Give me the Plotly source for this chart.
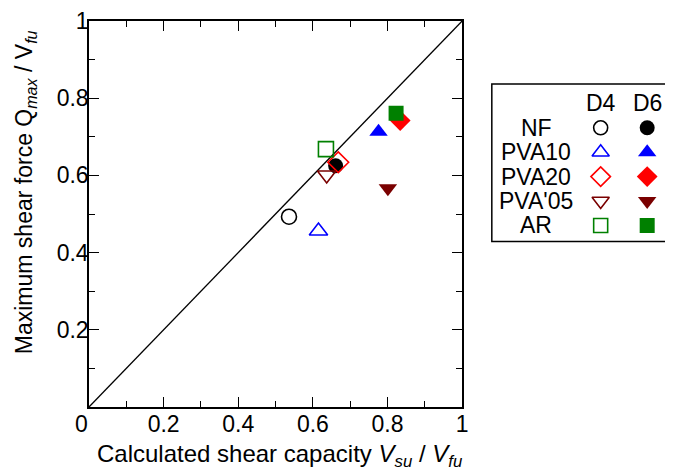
import plotly.graph_objects as go

# ---- data ----
series = ["NF", "PVA10", "PVA20", "PVA'05", "AR"]
colors = ["#000000", "#0000FF", "#FF0000", "#7A0000", "#008000"]
symbols = ["circle", "triangle-up", "diamond", "triangle-down", "square"]
sizes = [15, 16, 16, 16, 15]

d4_x = [0.536, 0.615, 0.668, 0.637, 0.635]
d4_y = [0.493, 0.456, 0.634, 0.601, 0.668]
d6_x = [0.661, 0.776, 0.834, 0.801, 0.823]
d6_y = [0.625, 0.713, 0.742, 0.567, 0.761]

diag = [0, 1]
tick_vals = [0.2, 0.4, 0.6, 0.8, 1.0]
tick_text = ["0.2", "0.4", "0.6", "0.8", "1"]
minor_vals = [0.1, 0.3, 0.5, 0.7, 0.9]

FONT = "Liberation Sans, Arial, sans-serif"
FS = 23

fig = go.Figure()

fig.add_trace(go.Scatter(x=diag, y=diag, mode="lines",
                         line=dict(color="black", width=1.3),
                         showlegend=False, hoverinfo="skip"))

for i, name in enumerate(series):
    fig.add_trace(go.Scatter(
        x=[d4_x[i]], y=[d4_y[i]], mode="markers", name=name + " D4",
        marker=dict(symbol=symbols[i] + "-open", size=sizes[i],
                    color=colors[i], line=dict(width=1.6, color=colors[i])),
        showlegend=False))
    fig.add_trace(go.Scatter(
        x=[d6_x[i]], y=[d6_y[i]], mode="markers", name=name + " D6",
        marker=dict(symbol=symbols[i], size=sizes[i],
                    color=colors[i], line=dict(width=0)),
        showlegend=False))

# legend samples on an overlay axis (rows = series, columns = D4/D6)
rows = list(range(len(series)))
for i, name in enumerate(series):
    fig.add_trace(go.Scatter(
        x=[0], y=[rows[i]], xaxis="x2", yaxis="y2", mode="markers",
        marker=dict(symbol=symbols[i] + "-open", size=sizes[i] - 1,
                    color=colors[i], line=dict(width=1.6, color=colors[i])),
        showlegend=False, hoverinfo="skip"))
    fig.add_trace(go.Scatter(
        x=[1], y=[rows[i]], xaxis="x2", yaxis="y2", mode="markers",
        marker=dict(symbol=symbols[i], size=sizes[i],
                    color=colors[i], line=dict(width=0)),
        showlegend=False, hoverinfo="skip"))

axis_common = dict(
    range=[0, 1], showline=True, linecolor="black", linewidth=1.5,
    mirror="allticks", ticks="inside", ticklen=10, tickwidth=1.3,
    tickcolor="black", tickvals=tick_vals, ticktext=tick_text,
    showgrid=False, zeroline=False, ticklabeloverflow="allow",
    tickfont=dict(family=FONT, size=FS, color="black"),
    minor=dict(tickvals=minor_vals, ticks="inside", ticklen=6,
               tickwidth=1.3, tickcolor="black", showgrid=False),
)

main_frac = 377 / 584
fig.update_layout(
    width=665, height=466,
    margin=dict(l=81, r=0, t=12, b=67),
    paper_bgcolor="white", plot_bgcolor="white",
    font=dict(family=FONT, size=FS, color="black"),
    xaxis=dict(domain=[0, main_frac], ticklabelstandoff=-4, **axis_common),
    yaxis=dict(ticklabelstandoff=-6, **axis_common),
    xaxis2=dict(domain=[(496 - 89) / 584, 1.0], range=[-2.34, 1.426],
                visible=False, anchor="y2"),
    yaxis2=dict(domain=[0.429, 0.837], range=[4.653, -1.796],
                visible=False, anchor="x2"),
)

annotations = [
    dict(text="0", x=-0.0125, y=-0.043, xref="paper", yref="paper",
         showarrow=False, xanchor="center", yanchor="middle",
         font=dict(family=FONT, size=FS)),
    dict(text="Calculated shear capacity <i>V<sub>su</sub></i> / <i>V<sub>fu</sub></i>",
         x=0.3288, y=-0.125, xref="paper", yref="paper", showarrow=False,
         xanchor="center", yanchor="middle", font=dict(family=FONT, size=24)),
    dict(text="Maximum shear force Q<sub><i>max</i></sub> / V<sub><i>fu</i></sub>",
         x=-0.1096, y=0.5556, xref="paper", yref="paper", showarrow=False,
         textangle=-90, xanchor="center", yanchor="middle",
         font=dict(family=FONT, size=FS)),
    dict(text="D4", x=0, y=-1, xref="x2", yref="y2", showarrow=False,
         font=dict(family=FONT, size=FS)),
    dict(text="D6", x=1, y=-1, xref="x2", yref="y2", showarrow=False,
         font=dict(family=FONT, size=FS)),
]
for i, name in enumerate(series):
    annotations.append(dict(text=name, x=-1.383, y=rows[i], xref="x2",
                            yref="y2", showarrow=False,
                            font=dict(family=FONT, size=FS)))
fig.update_layout(annotations=annotations)

fig.add_shape(type="rect", xref="paper", yref="paper",
              x0=(496 - 89) / 584, x1=1.05, y0=0.429, y1=0.837,
              line=dict(color="black", width=1.5), fillcolor="rgba(0,0,0,0)")

fig.write_html("out.html")
